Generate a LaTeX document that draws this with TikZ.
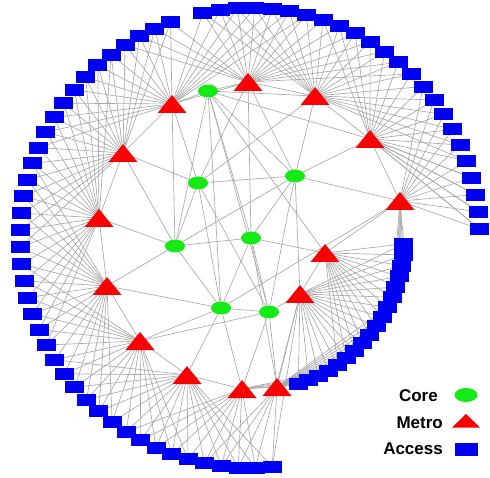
\documentclass[tikz,border=0pt]{standalone}
\usepackage{fontspec}
\setmainfont{Liberation Sans}
\usetikzlibrary{shapes.geometric}
\pgfdeclarelayer{edgelayer}
\pgfsetlayers{edgelayer,main}
\definecolor{coreG}{RGB}{20,235,20}
\definecolor{accB}{RGB}{0,0,245}
\definecolor{metR}{RGB}{250,0,0}
\definecolor{edgeC}{RGB}{168,168,168}
\tikzset{
 acc/.style={rectangle, fill=accB, minimum width=19pt, minimum height=12pt, inner sep=0pt},
 corenode/.style={ellipse, fill=coreG, minimum width=20pt, minimum height=13pt, inner sep=0pt},
 metrotri/.pic={\fill[metR] (0,-9) -- (14.5,9) -- (-14.5,9) -- cycle;},
 legtri/.pic={\fill[metR] (0,-7) -- (14,6.5) -- (-14,6.5) -- cycle;},
 lnk/.style={draw=edgeC, line width=0.65pt},
 legtxt/.style={font=\fontsize{17}{20}\selectfont\bfseries, anchor=base east, inner sep=0pt}
}
\begin{document}
\begin{tikzpicture}[x=1pt,y=-1pt]
\useasboundingbox (0,0) rectangle (490,478);
% access nodes
\foreach \k in {0,...,23}
  \node[acc] (o\k) at ({250+230*cos(101.8-4.33*\k)},{238-230*sin(101.8-4.33*\k)}) {};
\foreach \j in {0,...,39}
  \node[acc] (l\j) at ({250+230*cos(110.2+4.24*\j)},{238-230*sin(110.2+4.24*\j)}) {};
\foreach \i in {0,...,17}
  \node[acc] (n\i) at ({250+154*cos(-2.2-4.09*\i)},{238-154*sin(-2.2-4.09*\i)}) {};
% metro nodes
\coordinate (M17) at (172,104);
\coordinate (M13) at (248,82);
\coordinate (M6) at (315,96);
\coordinate (M11) at (370,139);
\coordinate (M5) at (400,201);
\coordinate (M14) at (123,153);
\coordinate (M10) at (99,218);
\coordinate (M8) at (325,253);
\coordinate (M7) at (300,294);
\coordinate (M16) at (107,286);
\coordinate (M12) at (140,341);
\coordinate (M15) at (187,375);
\coordinate (M3) at (242,389);
\coordinate (M4) at (277,387);
\foreach \m in {M17,M13,M6,M11,M5,M14,M10,M8,M7,M16,M12,M15,M3,M4}
  \pic at (\m) {metrotri};
% core nodes
\node[corenode] (a) at (208,91) {};
\node[corenode] (b) at (198,183) {};
\node[corenode] (c) at (295,176) {};
\node[corenode] (d) at (175,246) {};
\node[corenode] (e) at (251,238) {};
\node[corenode] (f) at (221,308) {};
\node[corenode] (g) at (269,312) {};
% edges
\begin{pgfonlayer}{edgelayer}
\foreach \k/\p/\q/\r in {0/M13/M17/M6,1/M13/M17/M6,2/M13/M17/M6,3/M6/M13/M17,4/M6/M13/M17,5/M6/M13/M17,
  6/M6/M13/M17,7/M6/M13/M11,8/M6/M13/M11,
  9/M11/M6/M13,10/M11/M6/M13,11/M11/M6/M13,12/M11/M6/M13,13/M11/M6/M13,14/M11/M6/M5,15/M5/M11/M6,
  16/M5/M11/M6,17/M5/M11/M6,18/M5/M11/M6,19/M5/M11/M6,20/M5/M11/M11,21/M5/M11/M11,22/M5/M11/M11,23/M5/M11/M11}
  {\draw[lnk] (o\k.center) -- (\p); \draw[lnk] (o\k.center) -- (\q); \draw[lnk] (o\k.center) -- (\r);}
\foreach \j/\p/\q/\r in {0/M17/M14/M13,1/M17/M14/M13,2/M17/M14/M13,3/M17/M14/M13,4/M17/M14/M10,
  5/M17/M14/M10,6/M17/M14/M10,7/M17/M14/M10,8/M17/M14/M10,
  9/M14/M10/M17,10/M14/M10/M17,11/M14/M10/M17,12/M14/M10/M16,13/M14/M10/M16,14/M14/M10/M16,
  15/M10/M16/M14,16/M10/M16/M14,17/M10/M16/M14,18/M10/M16/M12,19/M10/M16/M12,20/M10/M16/M12,
  21/M16/M12/M10,22/M16/M12/M10,23/M16/M12/M10,24/M16/M12/M15,25/M16/M12/M15,26/M16/M12/M15,
  27/M12/M15/M16,28/M12/M15/M16,29/M12/M15/M16,30/M12/M15/M3,31/M12/M15/M3,32/M12/M15/M3,
  33/M15/M3/M12,34/M15/M3/M12,35/M15/M3/M4,36/M15/M3/M4,37/M3/M4/M15,38/M3/M7/M15,39/M4/M7/M15}
  {\draw[lnk] (l\j.center) -- (\p); \draw[lnk] (l\j.center) -- (\q); \draw[lnk] (l\j.center) -- (\r);}
\foreach \i/\p/\q/\r in {0/M5/M8/M7,1/M5/M8/M7,2/M5/M8/M7,3/M8/M7/M5,4/M8/M7/M5,5/M8/M7/M5,6/M8/M7/M4,
  7/M8/M7/M4,8/M8/M7/M4,9/M8/M7/M4,10/M8/M7/M4,11/M7/M4/M8,12/M7/M4/M8,13/M7/M4/M8,14/M7/M4/M3,
  15/M7/M4/M3,16/M7/M4/M3,17/M7/M4/M3}
  {\draw[lnk] (n\i.center) -- (\p); \draw[lnk] (n\i.center) -- (\q); \draw[lnk] (n\i.center) -- (\r);}
\foreach \u/\v in {M17/M14,M14/M10,M10/M16,M16/M12,M12/M15,M15/M3,M3/M4,M4/M7,M7/M8,M8/M5,M5/M11,
  M11/M6,M6/M13,M13/M17,
  a/M17,a/M13,a/M11,a/M8,a/M6,b/M17,b/M13,b/M14,b/M6,c/M6,c/M11,c/M5,c/M7,c/M13,d/M17,d/M14,d/M10,d/M16,
  f/M16,f/M12,f/M15,f/M3,f/M5,g/M3,g/M4,g/M12,g/M7,e/M8,e/M13,e/M4,
  a/c,b/c,d/e,f/g,e/c,d/b,b/f,e/g,d/f,e/f,a/d,a/e,a/g,a/f,c/g,b/g,c/d}
  \draw[lnk] (\u) -- (\v);
\end{pgfonlayer}
% legend
\node[legtxt] (lcore) at (438,401) {Core};
\node[corenode, minimum width=23pt, minimum height=14pt] (lgc) at (466,395) {};
\node[legtxt] (lmet) at (443,428) {Metro};
\coordinate (lgm) at (466,421);
\pic at (lgm) {legtri};
\node[legtxt] (lacc) at (443,454) {Access};
\node[acc, minimum width=23pt, minimum height=13pt] (lga) at (466,449) {};
\end{tikzpicture}
\end{document}
